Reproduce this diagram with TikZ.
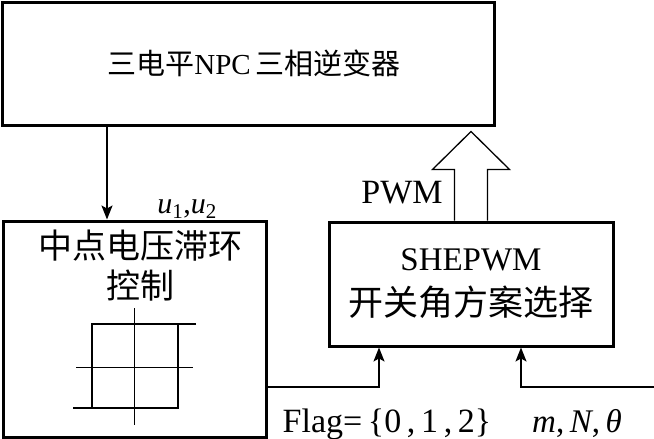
\documentclass[tikz,border=0pt]{standalone}
\usepackage{fontspec}
\setmainfont{Liberation Serif}
\newfontfamily\cjk{Noto Sans CJK SC}
\usetikzlibrary{arrows.meta,calc}
\begin{document}
\begin{tikzpicture}[x=1pt,y=-1pt,
  blk/.style={draw,line width=3pt,inner sep=0pt,align=center},
  conn/.style={line width=1.3pt},
  arr/.style={conn,-{Stealth[length=14pt,width=11pt,inset=3pt]}},
  lbl/.style={inner sep=0pt,anchor=base},
  loopln/.style={line width=2.8pt},
  axis/.style={line width=1pt}]
\useasboundingbox (0,0) rectangle (654,439);
% blocks
\node[blk,minimum width=492pt,minimum height=123pt,font={\fontsize{29}{34}\selectfont}] (inv) at (248,63.5)
  {\hspace*{12pt}{\cjk 三电平}NPC\,{\cjk 三相逆变器}};
\node[blk,minimum width=263pt,minimum height=216pt] (hyst) at (134.5,329) {};
\node[inner sep=0pt,align=center,font={\fontsize{34}{40}\selectfont\cjk}] (htext) at (140,266) {中点电压滞环\\控制};
\node[blk,minimum width=284pt,minimum height=124pt,font={\fontsize{33}{40}\selectfont}] (she) at (471,284)
  {SHEPWM\\[5pt]{\cjk\fontsize{35}{40}\selectfont 开关角方案选择}};
% hysteresis symbol
\draw[axis] (134,308) -- (134,425);
\draw[axis] (76,367) -- (193,367);
\draw[loopln,line join=miter] (196,324) -- (92,324) -- (92,408) -- (73,408);
\draw[loopln,line join=miter] (92,408) -- (178,408) -- (178,324);
% connectors
\coordinate (c1) at (107,0);
\draw[arr] (c1 |- inv.south) -- (c1 |- hyst.north);
\coordinate (c2) at (379,387);
\draw[arr] (hyst.east |- c2) -- (c2) -- (c2 |- she.south);
\coordinate (c3) at (654,387);
\coordinate (c4) at (521,387);
\draw[arr] (c3) -- (c4) -- (c4 |- she.south);
% hollow arrow
\draw[line width=1.3pt,line join=miter,fill=white]
  ($(she.north)+(-16.5,0)$) -- ++(0,-51) -- ++(-22,0) -- ($(she.north)+(0,-89)$)
  -- ($(she.north)+(38.5,-51)$) -- ++(-22,0) -- ($(she.north)+(16.5,0)$);
% labels
\node[lbl] (u) at (187,213) {\fontsize{30}{34}\selectfont\textit{u}\textsubscript{1},\textit{u}\textsubscript{2}};
\node[lbl] (pwm) at (402,203) {\fontsize{34}{38}\selectfont PWM};
\node[lbl] (flag) at (387,432) {\fontsize{34}{38}\selectfont Flag=\,\{0\,,\,1\,,\,2\}};
\node[lbl] (mnt) at (577,432) {\fontsize{33}{38}\selectfont\textit{m},\,\textit{N},\,\textit{θ}};
\end{tikzpicture}
\end{document}
